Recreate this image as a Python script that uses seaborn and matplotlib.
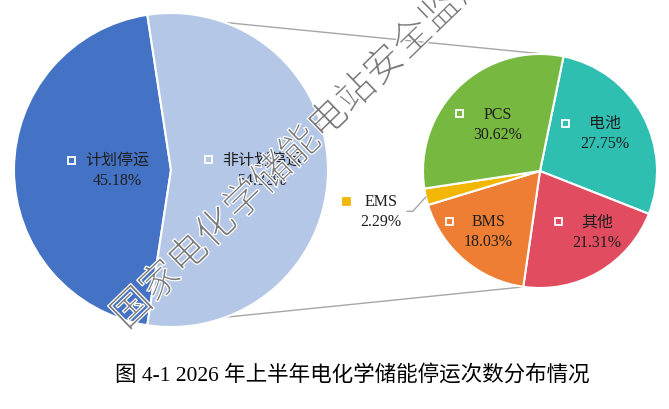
import numpy as np
import matplotlib
matplotlib.use("Agg")
import matplotlib.pyplot as plt
import matplotlib.patheffects as pe
from matplotlib.patches import Rectangle
import seaborn as sns

# 第一层：计划 / 非计划停运
outer_labels = ["计划停运", "非计划停运"]
outer_pct = [45.18, 54.82]
outer_colors = ["#4472C4", "#B4C7E7"]

# 第二层：非计划停运原因构成
inner_labels = ["电池", "其他", "BMS", "EMS", "PCS"]
inner_pct = [27.75, 21.31, 18.03, 2.29, 30.62]
inner_colors = ["#2FBFB1", "#E14C60", "#EE7E33", "#F2B705", "#77B940"]

caption = "图 4-1 2026 年上半年电化学储能停运次数分布情况"
watermark = "国家电化学储能电站安全监测信息平台"

sns.set_theme(style="white")
plt.rcParams["font.family"] = ["Liberation Serif", "Noto Sans CJK SC", "DejaVu Sans"]

fig = plt.figure(figsize=(6.69, 4.10), dpi=100)
ax = fig.add_axes([0, 0, 1, 1])

# 坐标按像素算 (y 向上)
c1, r1 = (171, 239), 157
c2, r2 = (540, 238), 117
txt_col = "#1f1f1f"

start1 = 180 - outer_pct[0] / 100 * 180
w1, _ = ax.pie(outer_pct, colors=outer_colors, startangle=start1, center=c1, radius=r1,
               wedgeprops=dict(edgecolor="white", linewidth=1.5))
w2, _ = ax.pie(inner_pct, colors=inner_colors, startangle=78.4, counterclock=False,
               center=c2, radius=r2, wedgeprops=dict(edgecolor="white", linewidth=1.5))

ax.set_xlim(0, 669)
ax.set_ylim(0, 410)
ax.set_aspect("equal")
ax.axis("off")

# 连接线
def on_circle(c, r, ang):
    a = np.deg2rad(ang)
    return c[0] + r * np.cos(a), c[1] + r * np.sin(a)

p_top = on_circle(c1, r1, w1[1].theta2)
p_bot = on_circle(c1, r1, w1[1].theta1)
q_top = on_circle(c2, r2, 88)
q_bot = on_circle(c2, r2, -98)
for p, q in [(p_top, q_top), (p_bot, q_bot)]:
    ax.plot([p[0], q[0]], [p[1], q[1]], color="#A6A6A6", lw=1.0, zorder=0)

# 标签
def put_label(c, r, ang, name, pct):
    x, y = on_circle(c, r, ang)
    t1 = ax.text(x, y + 10, name, ha="center", va="center", fontsize=11.5, color=txt_col, zorder=5)
    t2 = ax.text(x, y - 10, f"{pct:.2f}%", ha="center", va="center", fontsize=11.5,
                 color=txt_col, zorder=5)
    return t1, t2

labels = []
outer_r = [0.34, 0.58]
for w, name, pct, rf in zip(w1, outer_labels, outer_pct, outer_r):
    mid = (w.theta1 + w.theta2) / 2
    labels.append((put_label(c1, r1 * rf, mid, name, pct), "none", "white"))

inner_r = [0.64, 0.71, 0.68, 1.40, 0.54]
inner_da = [2, 13, 0, 1.5, -2]
ems_texts = None
for w, name, pct, rf, da, col in zip(w2, inner_labels, inner_pct, inner_r, inner_da, inner_colors):
    mid = (w.theta1 + w.theta2) / 2
    ts = put_label(c2, r2 * rf, mid + da, name, pct)
    if rf > 1:
        labels.append((ts, col, col))
        ems_texts = (ts, on_circle(c2, r2, mid))
    else:
        labels.append((ts, "none", "white"))

fig.canvas.draw()
for (t1, t2), fc, ec in labels:
    b1 = t1.get_window_extent()
    b2 = t2.get_window_extent()
    x0 = min(b1.x0, b2.x0)
    ky = t1.get_position()[1]
    ax.add_patch(Rectangle((x0 - 14 - 3.5, ky - 3.5), 7, 7, facecolor=fc, edgecolor=ec,
                           lw=1.3, zorder=5))

# EMS 引导线
(t1, t2), tip = ems_texts
b2 = t2.get_window_extent()
b1 = t1.get_window_extent()
ly = (t1.get_position()[1] + t2.get_position()[1]) / 2
lx = max(b1.x1, b2.x1) + 5
ax.plot([lx, lx + 6, tip[0]], [ly, ly, tip[1]], color="#A6A6A6", lw=1.0, zorder=4)

# 标题
ax.text(352, 35, caption, ha="center", va="center", fontsize=15.5, color="black")

# 水印 (白色描边把笔画削细)
ang = 44
d = np.deg2rad(ang)
ax.text(133 - 19.5 * np.cos(d), 100 - 19.5 * np.sin(d), watermark, rotation=ang,
        rotation_mode="anchor", ha="left", va="center", fontsize=28,
        family=["Noto Sans CJK SC"], color="#7a7a7a", zorder=10,
        path_effects=[pe.Stroke(linewidth=0.9, foreground="white")])

fig.savefig("out.png", dpi=100)
